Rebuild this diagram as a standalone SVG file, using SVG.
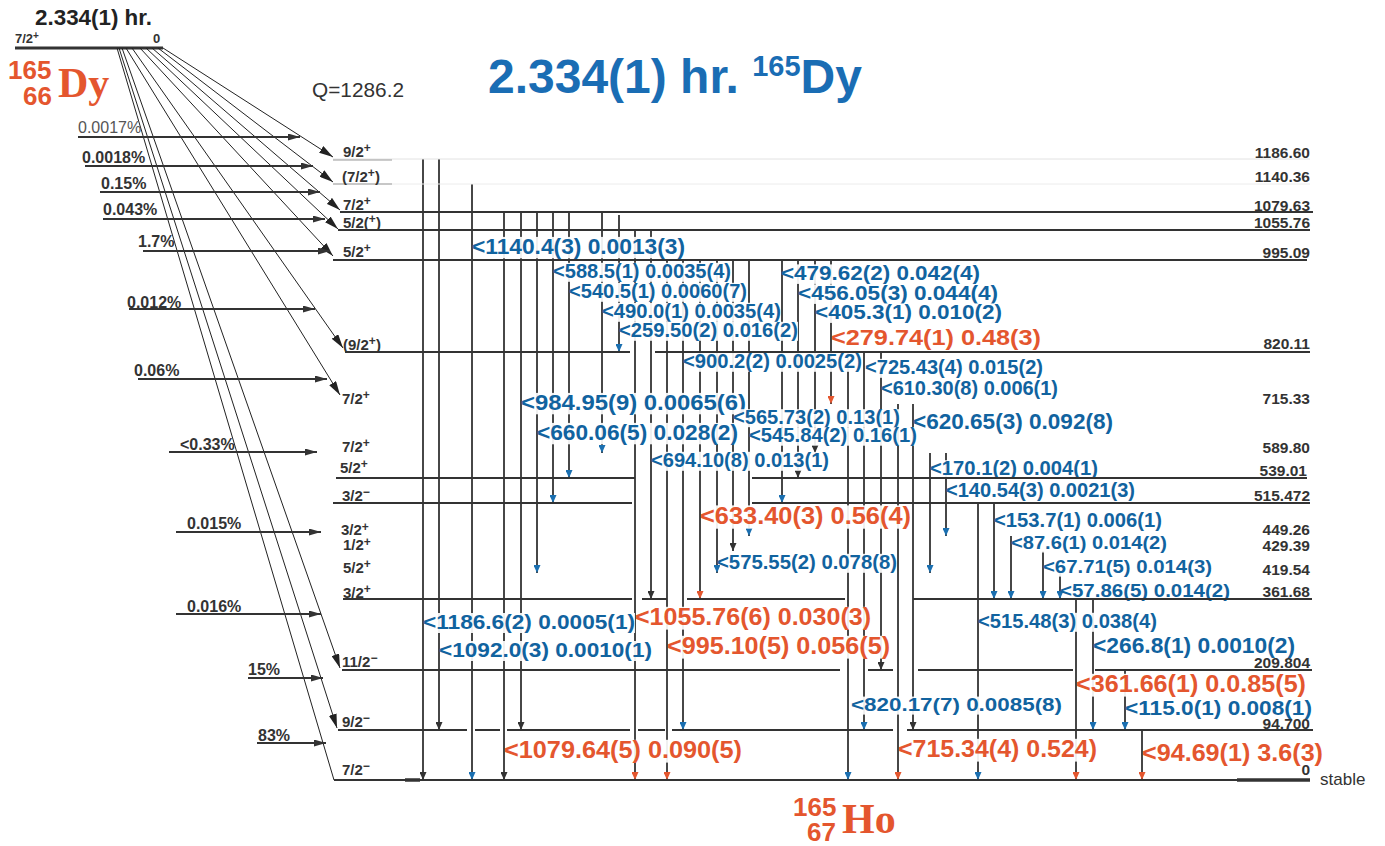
<svg xmlns="http://www.w3.org/2000/svg" width="1385" height="846" viewBox="0 0 1385 846">
<style>
.lv{stroke:#333;stroke-width:2;fill:none}
.lt{stroke:#999;stroke-width:1;fill:none}
.tr{stroke:#333;stroke-width:1.8;fill:none}
.bt{stroke:#222;stroke-width:1;fill:none}
.fd{stroke:#333;stroke-width:2;fill:none}
text{font-family:"Liberation Sans",Arial,Helvetica,sans-serif;font-weight:bold}
.sp{font-size:15px;fill:#333}
.su{font-size:12px}
.en{font-size:15.5px;fill:#333;text-anchor:end}
.pc{font-size:16px;fill:#333}
.gb{fill:#11639f}
.gr{fill:#e4562e}
.bg{fill:#fff;fill-opacity:0.92}
.iso{fill:#e4562e}
.ser{font-family:"Liberation Serif","Times New Roman",serif;font-weight:bold}
</style>
<defs>
<marker id="md" viewBox="0 0 14 8" refX="14" refY="4" markerWidth="14" markerHeight="8" markerUnits="userSpaceOnUse" orient="auto"><path d="M0,0 L14,4 L0,8 z" fill="#222"/></marker>
<marker id="mh" viewBox="0 0 12 7" refX="12" refY="3.5" markerWidth="12" markerHeight="7" markerUnits="userSpaceOnUse" orient="auto"><path d="M0,0 L12,3.5 L0,7 z" fill="#333"/></marker>
<marker id="vb" viewBox="0 0 8 7" refX="8" refY="3.5" markerWidth="8" markerHeight="7" markerUnits="userSpaceOnUse" orient="auto"><path d="M0,0 L8,3.5 L0,7 z" fill="#1a6fb0"/></marker>
<marker id="vr" viewBox="0 0 8 7" refX="8" refY="3.5" markerWidth="8" markerHeight="7" markerUnits="userSpaceOnUse" orient="auto"><path d="M0,0 L8,3.5 L0,7 z" fill="#e4562e"/></marker>
<marker id="vk" viewBox="0 0 8 7" refX="8" refY="3.5" markerWidth="8" markerHeight="7" markerUnits="userSpaceOnUse" orient="auto"><path d="M0,0 L8,3.5 L0,7 z" fill="#333"/></marker>
</defs>

<!-- title -->
<g id="title">
<text x="488" y="93" font-size="48" fill="#1a6db4">2.334(1) hr. <tspan font-size="29" dy="-17">165</tspan><tspan dy="17">Dy</tspan></text>
<text x="312" y="97" font-size="20" style="font-weight:normal" fill="#333" textLength="92" lengthAdjust="spacingAndGlyphs">Q=1286.2</text>
</g>

<!-- parent node -->
<g id="parent-Dy165">
<text x="35" y="25" font-size="22" fill="#222" textLength="117" lengthAdjust="spacingAndGlyphs">2.334(1) hr.</text>
<text x="15" y="43" font-size="13" fill="#333">7/2<tspan font-size="10" dy="-4">+</tspan></text>
<text x="153" y="43" font-size="13" fill="#333">0</text>
<line x1="15" y1="48" x2="163" y2="48" stroke="#333" stroke-width="3"/>
<text class="iso" x="8" y="79" font-size="26">165</text>
<text class="iso" x="23" y="105" font-size="26">66</text>
<text class="iso ser" x="58" y="97" font-size="42">Dy</text>
</g>

<!-- connectors -->
<g id="connectors">
<line class="bt" x1="163" y1="48" x2="333" y2="157" marker-end="url(#md)"/>
<line class="bt" x1="158" y1="48" x2="333" y2="182" marker-end="url(#md)"/>
<line class="bt" x1="152" y1="48" x2="340" y2="210" marker-end="url(#md)"/>
<line class="bt" x1="146" y1="48" x2="338" y2="229" marker-end="url(#md)"/>
<line class="bt" x1="140" y1="48" x2="333" y2="256" marker-end="url(#md)"/>
<line class="bt" x1="132" y1="48" x2="343" y2="348" marker-end="url(#md)"/>
<line class="bt" x1="126" y1="48" x2="340" y2="395" marker-end="url(#md)"/>
<line class="bt" x1="122" y1="48" x2="340" y2="668" marker-end="url(#md)"/>
<line class="bt" x1="119" y1="48" x2="337" y2="728" marker-end="url(#md)"/>
<line class="bt" x1="117" y1="48" x2="334" y2="780"/>
<line class="fd" x1="78" y1="137" x2="300" y2="137" marker-end="url(#mh)"/>
<line class="fd" x1="85" y1="166" x2="313" y2="166" marker-end="url(#mh)"/>
<line class="fd" x1="100" y1="192" x2="320" y2="192" marker-end="url(#mh)"/>
<line class="fd" x1="103" y1="219" x2="325" y2="219" marker-end="url(#mh)"/>
<line class="fd" x1="143" y1="251" x2="330" y2="251" marker-end="url(#mh)"/>
<line class="fd" x1="129" y1="309" x2="315" y2="309" marker-end="url(#mh)"/>
<line class="fd" x1="138" y1="379" x2="327" y2="379" marker-end="url(#mh)"/>
<line class="fd" x1="169" y1="452" x2="317" y2="452" marker-end="url(#mh)"/>
<line class="fd" x1="176" y1="532" x2="321" y2="532" marker-end="url(#mh)"/>
<line class="fd" x1="176" y1="614" x2="321" y2="614" marker-end="url(#mh)"/>
<line class="fd" x1="248" y1="678" x2="323" y2="678" marker-end="url(#mh)"/>
<line class="fd" x1="257" y1="743" x2="326" y2="743" marker-end="url(#mh)"/>
<g class="pc">
<text x="78" y="133" style="font-weight:normal" fill="#555">0.0017%</text>
<text x="82" y="163">0.0018%</text>
<text x="101" y="189">0.15%</text>
<text x="103" y="215">0.043%</text>
<text x="138" y="247">1.7%</text>
<text x="127" y="308">0.012%</text>
<text x="134" y="376">0.06%</text>
<text x="180" y="450">&lt;0.33%</text>
<text x="187" y="529">0.015%</text>
<text x="187" y="612">0.016%</text>
<text x="248" y="675">15%</text>
<text x="258" y="741">83%</text>
</g>
<line class="tr" x1="423" y1="159" x2="423" y2="780" marker-end="url(#vk)"/>
<line class="tr" x1="439" y1="159" x2="439" y2="730" marker-end="url(#vk)"/>
<line class="tr" x1="472" y1="184" x2="472" y2="780" marker-end="url(#vb)"/>
<line class="tr" x1="504" y1="212" x2="504" y2="780" marker-end="url(#vk)"/>
<line class="tr" x1="521" y1="212" x2="521" y2="730" marker-end="url(#vk)"/>
<line class="tr" x1="537" y1="212" x2="537" y2="573" marker-end="url(#vb)"/>
<line class="tr" x1="553" y1="212" x2="553" y2="503" marker-end="url(#vb)"/>
<line class="tr" x1="569" y1="212" x2="569" y2="478" marker-end="url(#vb)"/>
<line class="tr" x1="602" y1="212" x2="602" y2="453" marker-end="url(#vb)"/>
<line class="tr" x1="619" y1="215" x2="619" y2="352" marker-end="url(#vb)"/>
<line class="tr" x1="635" y1="230" x2="635" y2="780" marker-end="url(#vr)"/>
<line class="tr" x1="651" y1="230" x2="651" y2="599" marker-end="url(#vk)"/>
<line class="tr" x1="667" y1="260" x2="667" y2="780" marker-end="url(#vr)"/>
<line class="tr" x1="683" y1="260" x2="683" y2="730" marker-end="url(#vb)"/>
<line class="tr" x1="700" y1="260" x2="700" y2="599" marker-end="url(#vr)"/>
<line class="tr" x1="717" y1="260" x2="717" y2="573" marker-end="url(#vb)"/>
<line class="tr" x1="733" y1="260" x2="733" y2="551" marker-end="url(#vk)"/>
<line class="tr" x1="749" y1="260" x2="749" y2="536" marker-end="url(#vb)"/>
<line class="tr" x1="782" y1="260" x2="782" y2="503" marker-end="url(#vb)"/>
<line class="tr" x1="798" y1="260" x2="798" y2="478" marker-end="url(#vk)"/>
<line class="tr" x1="815" y1="260" x2="815" y2="453" marker-end="url(#vk)"/>
<line class="tr" x1="831" y1="260" x2="831" y2="404" marker-end="url(#vr)"/>
<line class="tr" x1="848" y1="352" x2="848" y2="780" marker-end="url(#vb)"/>
<line class="tr" x1="864" y1="352" x2="864" y2="730" marker-end="url(#vb)"/>
<line class="tr" x1="881" y1="352" x2="881" y2="670" marker-end="url(#vk)"/>
<line class="tr" x1="898" y1="404" x2="898" y2="780" marker-end="url(#vr)"/>
<line class="tr" x1="913" y1="404" x2="913" y2="730" marker-end="url(#vk)"/>
<line class="tr" x1="930" y1="453" x2="930" y2="573" marker-end="url(#vb)"/>
<line class="tr" x1="946" y1="453" x2="946" y2="536" marker-end="url(#vb)"/>
<line class="tr" x1="978" y1="503" x2="978" y2="780" marker-end="url(#vb)"/>
<line class="tr" x1="994" y1="503" x2="994" y2="599" marker-end="url(#vb)"/>
<line class="tr" x1="1011" y1="536" x2="1011" y2="599" marker-end="url(#vb)"/>
<line class="tr" x1="1043" y1="551" x2="1043" y2="599" marker-end="url(#vb)"/>
<line class="tr" x1="1060" y1="573" x2="1060" y2="599" marker-end="url(#vb)"/>
<line class="tr" x1="1076" y1="599" x2="1076" y2="780" marker-end="url(#vr)"/>
<line class="tr" x1="1093" y1="599" x2="1093" y2="730" marker-end="url(#vb)"/>
<line class="tr" x1="1125" y1="670" x2="1125" y2="730" marker-end="url(#vb)"/>
<line class="tr" x1="1142" y1="730" x2="1142" y2="780" marker-end="url(#vr)"/>
</g>

<!-- gamma labels -->
<g id="gamma-labels">
<rect class="bg" x="475" y="236.9" width="210" height="21.4"/><text class="gb" x="472" y="254" font-size="22.5" textLength="213" lengthAdjust="spacingAndGlyphs">&lt;1140.4(3) 0.0013(3)</text>
<rect class="bg" x="556" y="262.8" width="175" height="19"/><text class="gb" x="553" y="278" font-size="20" textLength="178" lengthAdjust="spacingAndGlyphs">&lt;588.5(1) 0.0035(4)</text>
<rect class="bg" x="572" y="282.8" width="175" height="19"/><text class="gb" x="569" y="298" font-size="20" textLength="178" lengthAdjust="spacingAndGlyphs">&lt;540.5(1) 0.0060(7)</text>
<rect class="bg" x="605" y="302.8" width="176" height="19"/><text class="gb" x="602" y="318" font-size="20" textLength="179" lengthAdjust="spacingAndGlyphs">&lt;490.0(1) 0.0035(4)</text>
<rect class="bg" x="622" y="321.8" width="176" height="19"/><text class="gb" x="619" y="337" font-size="20" textLength="179" lengthAdjust="spacingAndGlyphs">&lt;259.50(2) 0.016(2)</text>
<rect class="bg" x="784" y="264.4" width="196" height="19.5"/><text class="gb" x="781" y="280" font-size="20.5" textLength="199" lengthAdjust="spacingAndGlyphs">&lt;479.62(2) 0.042(4)</text>
<rect class="bg" x="801" y="284.4" width="197" height="19.5"/><text class="gb" x="798" y="300" font-size="20.5" textLength="200" lengthAdjust="spacingAndGlyphs">&lt;456.05(3) 0.044(4)</text>
<rect class="bg" x="818" y="303.4" width="184" height="19.5"/><text class="gb" x="815" y="319" font-size="20.5" textLength="187" lengthAdjust="spacingAndGlyphs">&lt;405.3(1) 0.010(2)</text>
<rect class="bg" x="834" y="327.9" width="207" height="21.4"/><text class="gr" x="831" y="345" font-size="22.5" textLength="210" lengthAdjust="spacingAndGlyphs">&lt;279.74(1) 0.48(3)</text>
<rect class="bg" x="686" y="352.8" width="176" height="19"/><text class="gb" x="683" y="368" font-size="20" textLength="179" lengthAdjust="spacingAndGlyphs">&lt;900.2(2) 0.0025(2)</text>
<rect class="bg" x="868" y="358.8" width="175" height="19"/><text class="gb" x="865" y="374" font-size="20" textLength="178" lengthAdjust="spacingAndGlyphs">&lt;725.43(4) 0.015(2)</text>
<rect class="bg" x="884" y="380.2" width="174" height="18.5"/><text class="gb" x="881" y="395" font-size="19.5" textLength="177" lengthAdjust="spacingAndGlyphs">&lt;610.30(8) 0.006(1)</text>
<rect class="bg" x="524" y="392.9" width="222" height="21.4"/><text class="gb" x="521" y="410" font-size="22.5" textLength="225" lengthAdjust="spacingAndGlyphs">&lt;984.95(9) 0.0065(6)</text>
<rect class="bg" x="736" y="409.2" width="164" height="18"/><text class="gb" x="733" y="424" font-size="19.5" textLength="167" lengthAdjust="spacingAndGlyphs">&lt;565.73(2) 0.13(1)</text>
<rect class="bg" x="916" y="412.7" width="197" height="20.4"/><text class="gb" x="913" y="429" font-size="21.5" textLength="200" lengthAdjust="spacingAndGlyphs">&lt;620.65(3) 0.092(8)</text>
<rect class="bg" x="540" y="422.9" width="198" height="21.4"/><text class="gb" x="537" y="440" font-size="22.5" textLength="201" lengthAdjust="spacingAndGlyphs">&lt;660.06(5) 0.028(2)</text>
<rect class="bg" x="752" y="427.2" width="165" height="18.5"/><text class="gb" x="749" y="442" font-size="19.5" textLength="168" lengthAdjust="spacingAndGlyphs">&lt;545.84(2) 0.16(1)</text>
<rect class="bg" x="654" y="451.8" width="175" height="19"/><text class="gb" x="651" y="467" font-size="20" textLength="178" lengthAdjust="spacingAndGlyphs">&lt;694.10(8) 0.013(1)</text>
<rect class="bg" x="933" y="460.2" width="165" height="18.5"/><text class="gb" x="930" y="475" font-size="19.5" textLength="168" lengthAdjust="spacingAndGlyphs">&lt;170.1(2) 0.004(1)</text>
<rect class="bg" x="949" y="482.2" width="186" height="18.5"/><text class="gb" x="946" y="497" font-size="19.5" textLength="189" lengthAdjust="spacingAndGlyphs">&lt;140.54(3) 0.0021(3)</text>
<rect class="bg" x="703" y="505.4" width="208" height="23.3"/><text class="gr" x="700" y="524" font-size="24.5" textLength="211" lengthAdjust="spacingAndGlyphs">&lt;633.40(3) 0.56(4)</text>
<rect class="bg" x="997" y="512.2" width="165" height="18.5"/><text class="gb" x="994" y="527" font-size="19.5" textLength="168" lengthAdjust="spacingAndGlyphs">&lt;153.7(1) 0.006(1)</text>
<rect class="bg" x="1014" y="534.9" width="153" height="17.6"/><text class="gb" x="1011" y="549" font-size="18.5" textLength="156" lengthAdjust="spacingAndGlyphs">&lt;87.6(1) 0.014(2)</text>
<rect class="bg" x="720" y="553.8" width="177" height="19"/><text class="gb" x="717" y="569" font-size="20" textLength="180" lengthAdjust="spacingAndGlyphs">&lt;575.55(2) 0.078(8)</text>
<rect class="bg" x="1046" y="558.6" width="166" height="18"/><text class="gb" x="1043" y="573" font-size="19" textLength="169" lengthAdjust="spacingAndGlyphs">&lt;67.71(5) 0.014(3)</text>
<rect class="bg" x="1063" y="582.6" width="167" height="16.4"/><text class="gb" x="1060" y="597" font-size="19" textLength="170" lengthAdjust="spacingAndGlyphs">&lt;57.86(5) 0.014(2)</text>
<rect class="bg" x="426" y="613" width="209" height="20"/><text class="gb" x="423" y="629" font-size="21" textLength="212" lengthAdjust="spacingAndGlyphs">&lt;1186.6(2) 0.0005(1)</text>
<rect class="bg" x="638" y="606.8" width="233" height="22.8"/><text class="gr" x="635" y="625" font-size="24" textLength="236" lengthAdjust="spacingAndGlyphs">&lt;1055.76(6) 0.030(3)</text>
<rect class="bg" x="442" y="641" width="210" height="20"/><text class="gb" x="439" y="657" font-size="21" textLength="213" lengthAdjust="spacingAndGlyphs">&lt;1092.0(3) 0.0010(1)</text>
<rect class="bg" x="670" y="635.8" width="220" height="22.8"/><text class="gr" x="667" y="654" font-size="24" textLength="223" lengthAdjust="spacingAndGlyphs">&lt;995.10(5) 0.056(5)</text>
<rect class="bg" x="981" y="612.8" width="176" height="19"/><text class="gb" x="978" y="628" font-size="20" textLength="179" lengthAdjust="spacingAndGlyphs">&lt;515.48(3) 0.038(4)</text>
<rect class="bg" x="1096" y="636.7" width="199" height="20.4"/><text class="gb" x="1093" y="653" font-size="21.5" textLength="202" lengthAdjust="spacingAndGlyphs">&lt;266.8(1) 0.0010(2)</text>
<rect class="bg" x="1079" y="673.8" width="227" height="22.8"/><text class="gr" x="1076" y="692" font-size="24" textLength="230" lengthAdjust="spacingAndGlyphs">&lt;361.66(1) 0.0.85(5)</text>
<rect class="bg" x="854" y="696.6" width="208" height="18"/><text class="gb" x="851" y="711" font-size="19" textLength="211" lengthAdjust="spacingAndGlyphs">&lt;820.17(7) 0.0085(8)</text>
<rect class="bg" x="1128" y="699.7" width="184" height="19"/><text class="gb" x="1125" y="715" font-size="21" textLength="187" lengthAdjust="spacingAndGlyphs">&lt;115.0(1) 0.008(1)</text>
<rect class="bg" x="507" y="739.8" width="235" height="22.8"/><text class="gr" x="504" y="758" font-size="24" textLength="238" lengthAdjust="spacingAndGlyphs">&lt;1079.64(5) 0.090(5)</text>
<rect class="bg" x="901" y="738.8" width="196" height="22.8"/><text class="gr" x="898" y="757" font-size="24" textLength="199" lengthAdjust="spacingAndGlyphs">&lt;715.34(4) 0.524)</text>
<rect class="bg" x="1145" y="742.8" width="178" height="22.8"/><text class="gr" x="1142" y="761" font-size="24" textLength="181" lengthAdjust="spacingAndGlyphs">&lt;94.69(1) 3.6(3)</text>
</g>

<!-- levels (nodes) -->
<g id="lv-1186">
<line x1="333" y1="159" x2="1310" y2="159" stroke="#e2e2e2" stroke-width="1"/>
<line class="lt" x1="333" y1="160" x2="392" y2="160"/>
<text class="sp" x="343" y="157">9/2<tspan class="su" dy="-5">+</tspan></text>
<text class="en" x="1310" y="158">1186.60</text>
</g>
<g id="lv-1140">
<line x1="333" y1="184" x2="1310" y2="184" stroke="#ececec" stroke-width="1"/>
<line class="lt" x1="333" y1="184" x2="392" y2="184"/>
<text class="sp" x="342" y="182">(7/2<tspan class="su" dy="-5">+</tspan><tspan dy="5">)</tspan></text>
<text class="en" x="1310" y="182">1140.36</text>
</g>
<g id="lv-1079">
<line class="lv" x1="340" y1="212" x2="1313" y2="212"/>
<text class="sp" x="343" y="210">7/2<tspan class="su" dy="-5">+</tspan></text>
<text class="en" x="1310" y="211">1079.63</text>
</g>
<g id="lv-1055">
<line class="lv" x1="338" y1="230" x2="1310" y2="230"/>
<text class="sp" x="343" y="228">5/2(<tspan class="su" dy="-5">+</tspan><tspan dy="5">)</tspan></text>
<text class="en" x="1310" y="228">1055.76</text>
</g>
<g id="lv-995">
<line class="lv" x1="333" y1="260" x2="1307" y2="260"/>
<text class="sp" x="343" y="257">5/2<tspan class="su" dy="-5">+</tspan></text>
<text class="en" x="1310" y="258">995.09</text>
</g>
<g id="lv-820">
<path class="lv" d="M345,352 H630 M655,352 H1310"/>
<text class="sp" x="343" y="350">(9/2<tspan class="su" dy="-5">+</tspan><tspan dy="5">)</tspan></text>
<text class="en" x="1310" y="349">820.11</text>
</g>
<g id="lv-715">
<text class="sp" x="342" y="404">7/2<tspan class="su" dy="-5">+</tspan></text>
<text class="en" x="1310" y="404">715.33</text>
</g>
<g id="lv-589">
<text class="sp" x="342" y="452">7/2<tspan class="su" dy="-5">+</tspan></text>
<text class="en" x="1310" y="453">589.80</text>
</g>
<g id="lv-539">
<path class="lv" d="M336,478 H635 M752,478 H1307"/>
<text class="sp" x="340" y="473">5/2<tspan class="su" dy="-5">+</tspan></text>
<text class="en" x="1307" y="476">539.01</text>
</g>
<g id="lv-515">
<path class="lv" d="M333,503 H632 M752,503 H1310"/>
<text class="sp" x="342" y="501">3/2<tspan class="su" dy="-5">−</tspan></text>
<text class="en" x="1310" y="501">515.472</text>
</g>
<g id="lv-449">
<text class="sp" x="341" y="535">3/2<tspan class="su" dy="-4">+</tspan></text>
<text class="en" x="1310" y="535">449.26</text>
</g>
<g id="lv-429">
<text class="sp" x="343" y="550">1/2<tspan class="su" dy="-4">+</tspan></text>
<text class="en" x="1310" y="551">429.39</text>
</g>
<g id="lv-419">
<text class="sp" x="343" y="573">5/2<tspan class="su" dy="-5">+</tspan></text>
<text class="en" x="1310" y="575">419.54</text>
</g>
<g id="lv-361">
<path class="lv" d="M343,599 H632 M642,599 H667 M687,599 H845 M913,599 H1312"/>
<text class="sp" x="343" y="598">3/2<tspan class="su" dy="-5">+</tspan></text>
<text class="en" x="1310" y="597">361.68</text>
</g>
<g id="lv-209">
<path class="lv" d="M342,670 H840 M868,670 H893 M918,670 H1073 M1095,670 H1312"/>
<text class="sp" x="342" y="667">11/2<tspan class="su" dy="-5">−</tspan></text>
<text class="en" x="1310" y="668">209.804</text>
</g>
<g id="lv-94">
<path class="lv" d="M338,730 H467 M475,730 H500 M507,730 H630 M638,730 H665 M672,730 H893 M907,730 H1313"/>
<text class="sp" x="342" y="727">9/2<tspan class="su" dy="-5">−</tspan></text>
<text class="en" x="1310" y="729">94.700</text>
</g>
<g id="lv-0">
<line class="lv" x1="334" y1="780" x2="1310" y2="780"/>
<line x1="405" y1="780" x2="420" y2="780" stroke="#333" stroke-width="3.5"/>
<line x1="1237" y1="780" x2="1310" y2="780" stroke="#333" stroke-width="3.5"/>
<text class="sp" x="342" y="775">7/2<tspan class="su" dy="-5">−</tspan></text>
<text class="en" x="1310" y="775">0</text>
<text x="1320" y="785" font-size="17" style="font-weight:normal" fill="#333">stable</text>
<text class="iso" x="793" y="816" font-size="26">165</text>
<text class="iso" x="807" y="841" font-size="26">67</text>
<text class="iso ser" x="842" y="833" font-size="42">Ho</text>
</g>
</svg>
